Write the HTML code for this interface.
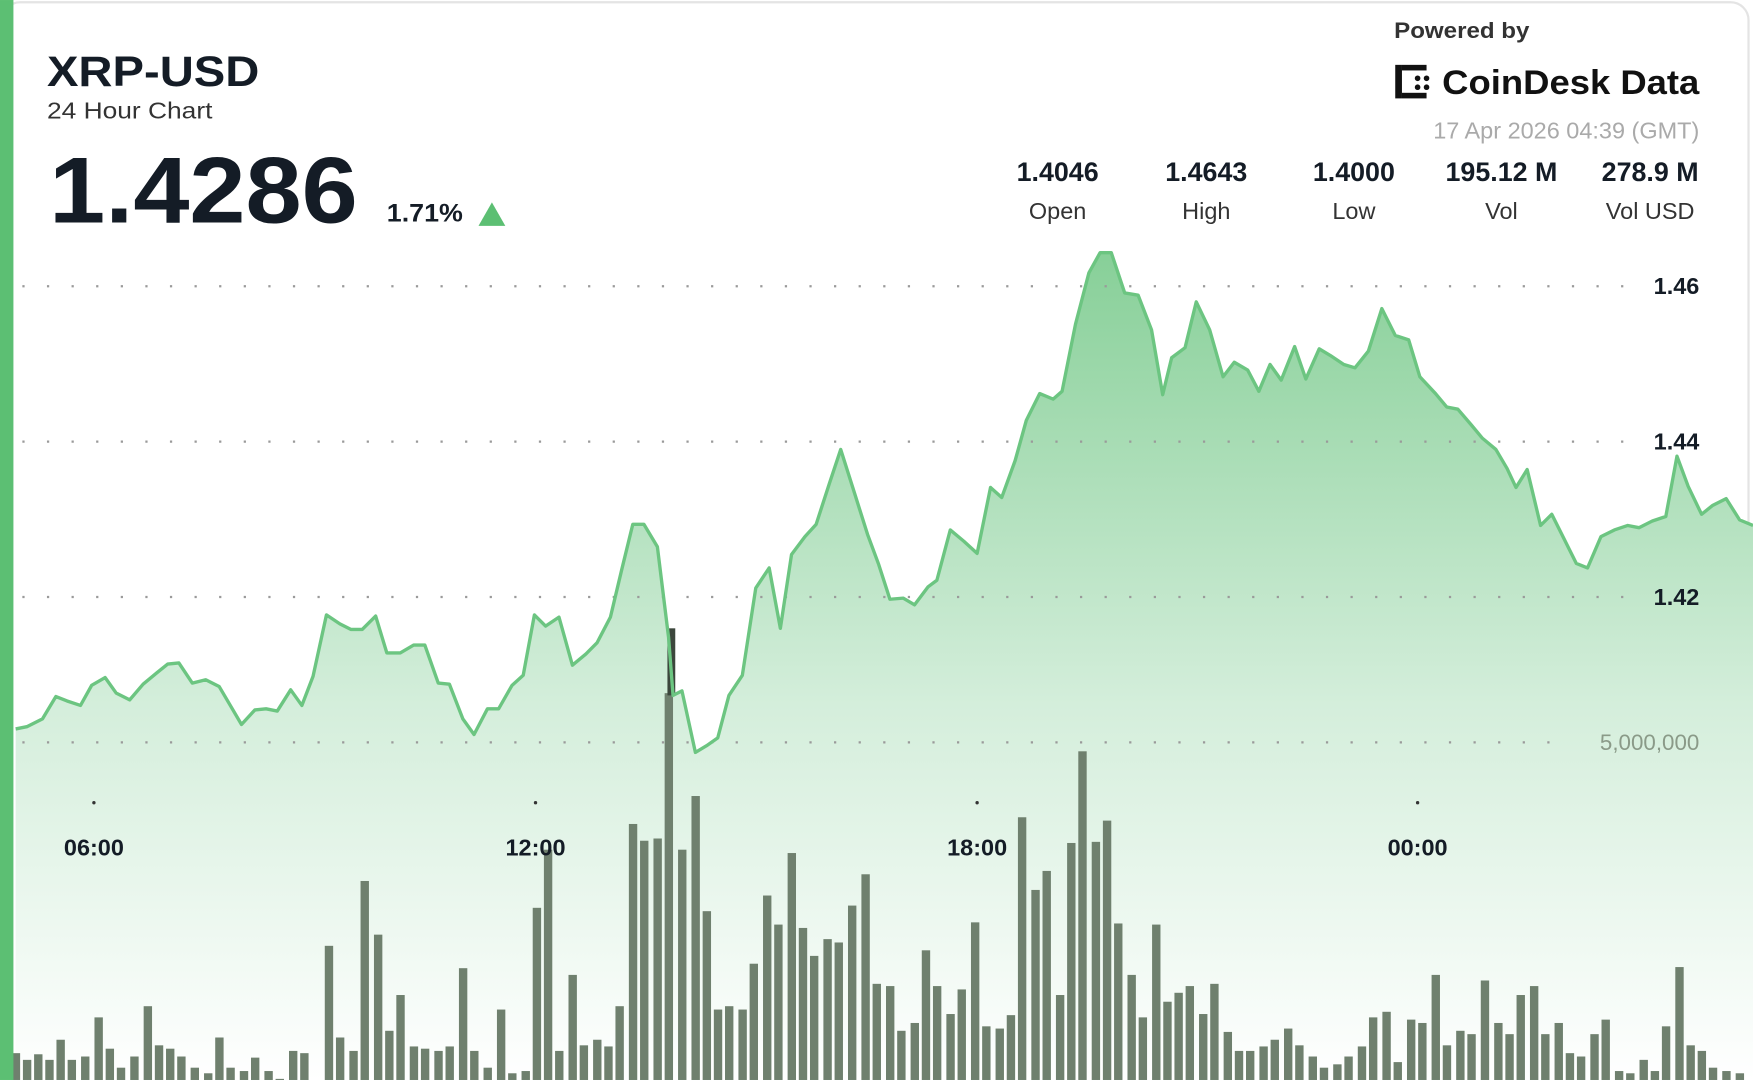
<!DOCTYPE html>
<html><head><meta charset="utf-8"><style>
html,body{margin:0;padding:0;background:#fff;width:1753px;height:1080px;overflow:hidden}
svg{display:block}
text{font-family:"Liberation Sans",sans-serif}
</style></head><body>
<svg id="s" width="1753" height="1080" viewBox="0 0 1568 966" xmlns="http://www.w3.org/2000/svg">
<defs>
<linearGradient id="ag" gradientUnits="userSpaceOnUse" x1="0" y1="220" x2="0" y2="966">
<stop offset="0" stop-color="#86cf97"/><stop offset="0.55" stop-color="#d4eedb"/><stop offset="1" stop-color="#ffffff"/>
</linearGradient>
</defs>
<rect x="0" y="0" width="1568" height="966" fill="#fff"/>
<rect x="2" y="2" width="1562" height="980" rx="16" fill="none" stroke="#e4e4e4" stroke-width="2"/>
<path id="area" fill="url(#ag)"/>
<g id="bars" fill="#6f806e"></g>
<rect x="597" y="562" width="7" height="60" fill="#3c463c"/>
<g stroke="#9a9a9a" stroke-width="2" stroke-dasharray="2 20" fill="none">
<line x1="20" y1="256" x2="1460" y2="256"/>
<line x1="20" y1="395" x2="1460" y2="395"/>
<line x1="20" y1="534" x2="1460" y2="534"/>
<line x1="20" y1="664" x2="1400" y2="664"/>
</g>
<path id="line" fill="none" stroke="#6cc581" stroke-width="3" stroke-linejoin="round"/>
<rect x="0" y="0" width="12" height="966" fill="#5cbf73"/>
<text x="42" y="77" font-size="38" font-weight="bold" fill="#141c26" textLength="190" lengthAdjust="spacingAndGlyphs">XRP-USD</text>
<text x="42" y="106" font-size="21" fill="#333" textLength="148" lengthAdjust="spacingAndGlyphs">24 Hour Chart</text>
<text x="44" y="199" font-size="84" font-weight="bold" fill="#141c26" textLength="276" lengthAdjust="spacingAndGlyphs">1.4286</text>
<text x="346" y="198" font-size="22" font-weight="bold" fill="#141c26" textLength="68" lengthAdjust="spacingAndGlyphs">1.71%</text>
<polygon points="428,202 452,202 440,181" fill="#5cbf73"/>
<text x="1247" y="34" font-size="20" font-weight="bold" fill="#333" textLength="121" lengthAdjust="spacingAndGlyphs">Powered by</text>
<g fill="#111"><rect x="1248" y="58" width="6" height="30"/><rect x="1254" y="58" width="22" height="5"/><rect x="1254" y="83" width="22" height="5"/><circle cx="1268" cy="70" r="2.5"/><circle cx="1276" cy="70" r="2.5"/><circle cx="1268" cy="78" r="2.5"/><circle cx="1276" cy="78" r="2.5"/></g>
<text x="1290" y="84" font-size="31" font-weight="bold" fill="#111" textLength="230" lengthAdjust="spacingAndGlyphs">CoinDesk Data</text>
<text x="1520" y="124" font-size="21" fill="#aaa" text-anchor="end">17 Apr 2026 04:39 (GMT)</text>
<g font-size="24" font-weight="bold" fill="#141c26" text-anchor="middle">
<text x="946" y="162">1.4046</text><text x="1079" y="162">1.4643</text><text x="1211" y="162">1.4000</text><text x="1343" y="162">195.12 M</text><text x="1476" y="162">278.9 M</text></g>
<g font-size="21" fill="#333" text-anchor="middle">
<text x="946" y="196">Open</text><text x="1079" y="196">High</text><text x="1211" y="196">Low</text><text x="1343" y="196">Vol</text><text x="1476" y="196">Vol USD</text></g>
<g font-size="21" font-weight="bold" fill="#141c26" text-anchor="end">
<text x="1520" y="263">1.46</text><text x="1520" y="402">1.44</text><text x="1520" y="541">1.42</text></g>
<text x="1520" y="671" font-size="20" fill="#8a9a88" text-anchor="end">5,000,000</text>
<g fill="#333"><circle cx="84" cy="718" r="1.5"/><circle cx="479" cy="718" r="1.5"/><circle cx="874" cy="718" r="1.5"/><circle cx="1268" cy="718" r="1.5"/></g>
<g font-size="21" font-weight="bold" fill="#141c26" text-anchor="middle">
<text x="84" y="765">06:00</text><text x="479" y="765">12:00</text><text x="874" y="765">18:00</text><text x="1268" y="765">00:00</text></g>
</svg>
<script>
var P=[[14,652],[24,650],[38,643],[50,623],[60,627],[72,631],[82,613],[94,606],[104,620],[116,626],[128,612],[140,602],[150,594],[160,593],[172,611],[184,608],[196,614],[206,631],[216,648],[228,635],[238,634],[248,636],[260,617],[270,631],[280,605],[292,550],[304,558],[314,563],[324,563],[336,551],[346,584],[358,584],[370,577],[380,577],[392,611],[402,612],[414,643],[424,657],[436,634],[446,634],[458,613],[468,604],[478,550],[488,560],[500,552],[512,595],[524,585],[534,575],[546,552],[556,510],[566,469],[576,469],[588,489],[598,570],[602,622],[610,618],[622,673],[632,667],[642,660],[652,622],[664,604],[676,526],[688,508],[698,562],[708,496],[720,480],[730,469],[742,432],[752,402],[764,440],[776,478],[786,505],[796,536],[808,535],[818,541],[830,525],[838,519],[850,474],[862,484],[874,495],[886,436],[896,445],[908,412],[918,376],[930,352],[942,357],[950,350],[962,290],[974,244],[984,226],[994,226],[1006,262],[1018,264],[1030,295],[1040,353],[1048,320],[1060,311],[1070,270],[1082,295],[1094,337],[1104,324],[1116,331],[1126,350],[1136,326],[1146,340],[1158,310],[1168,339],[1180,312],[1190,318],[1202,326],[1212,329],[1224,314],[1236,276],[1248,300],[1260,304],[1270,337],[1284,352],[1294,364],[1304,366],[1316,380],[1326,392],[1338,402],[1348,419],[1356,436],[1366,420],[1378,470],[1388,460],[1398,480],[1410,504],[1420,508],[1432,480],[1444,474],[1456,470],[1466,472],[1478,466],[1490,462],[1500,408],[1510,435],[1522,460],[1532,452],[1544,446],[1556,465],[1568,470]];
var d=P.map(function(p,i){return (i?'L':'M')+p[0]+' '+p[1]}).join(' ');
document.getElementById('line').setAttribute('d',d);
document.getElementById('area').setAttribute('d',d+' L1568 966 L14 966 Z');
var B=[[14,942],[24,948],[34,943],[44,948],[54,930],[64,948],[76,945],[88,910],[98,938],[108,955],[120,945],[132,900],[142,935],[152,938],[162,945],[174,955],[186,960],[196,928],[206,955],[218,958],[228,946],[240,958],[250,965],[262,940],[272,942],[294,846],[304,928],[316,940],[326,788],[338,836],[348,922],[358,890],[370,936],[380,938],[392,940],[402,936],[414,866],[424,940],[436,955],[448,903],[458,960],[470,958],[480,812],[490,760],[500,940],[512,872],[522,935],[534,930],[544,936],[554,900],[566,737],[576,752],[588,750],[598,620],[610,760],[622,712],[632,815],[642,903],[652,900],[664,903],[674,862],[686,801],[696,827],[708,763],[718,830],[728,855],[740,840],[750,843],[762,810],[774,782],[784,880],[796,882],[806,922],[818,915],[828,850],[838,882],[850,907],[860,885],[872,825],[882,918],[894,920],[904,908],[914,731],[926,796],[936,779],[948,890],[958,754],[968,672],[980,753],[990,734],[1000,826],[1012,872],[1022,910],[1034,827],[1044,896],[1054,888],[1064,882],[1076,907],[1086,880],[1098,923],[1108,940],[1118,940],[1130,936],[1140,930],[1152,920],[1162,935],[1174,945],[1184,955],[1196,952],[1206,945],[1218,936],[1228,910],[1240,905],[1250,950],[1262,912],[1272,915],[1284,872],[1294,935],[1306,922],[1316,925],[1328,877],[1340,915],[1350,925],[1360,890],[1372,882],[1382,925],[1394,915],[1404,942],[1414,945],[1426,925],[1436,912],[1448,958],[1458,960],[1470,948],[1480,958],[1490,918],[1502,865],[1512,935],[1522,940],[1532,955],[1544,958],[1556,960]];
var g=document.getElementById('bars'),ns='http://www.w3.org/2000/svg';
B.forEach(function(b){var r=document.createElementNS(ns,'rect');r.setAttribute('x',b[0]-3.5);r.setAttribute('y',b[1]);r.setAttribute('width',7.5);r.setAttribute('height',966-b[1]);g.appendChild(r);});
</script>
</body></html>
